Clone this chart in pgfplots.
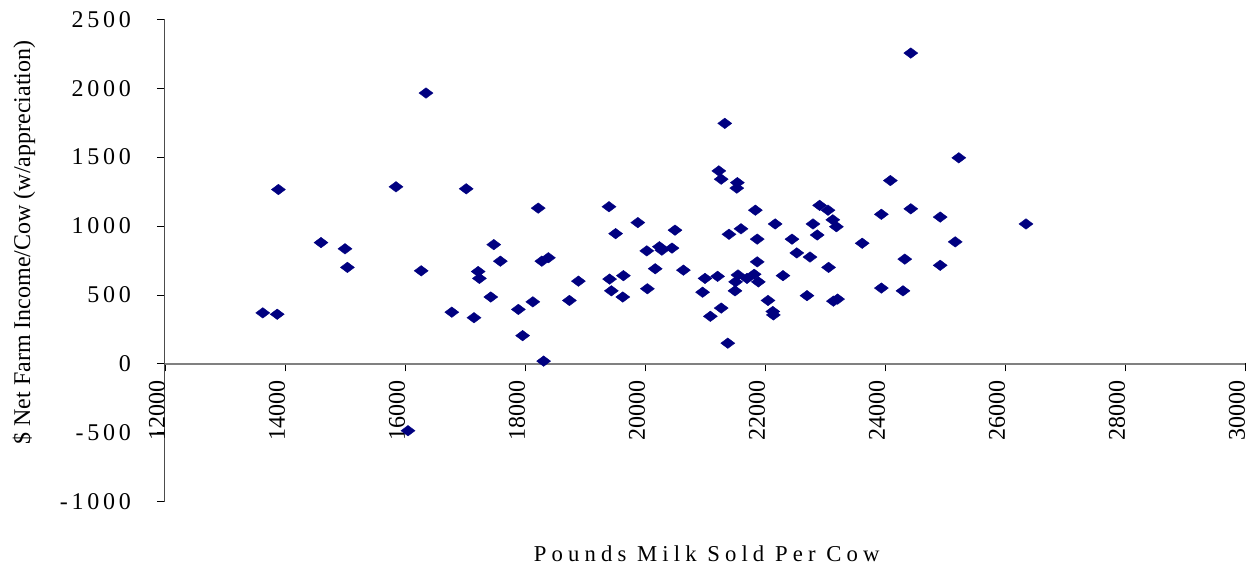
\documentclass[border=0pt]{standalone}
\usepackage{fontspec}
\setmainfont{Liberation Serif}
\newfontfamily\spacedfont[LetterSpace=15.5]{Liberation Serif}
\newfontfamily\spacedfontb[LetterSpace=22.5]{Liberation Serif}
\usepackage{pgfplots}
\pgfplotsset{compat=1.18}
\definecolor{navy}{RGB}{0,0,128}
\begin{document}
\begin{tikzpicture}
\path[use as bounding box] (0,0) rectangle (1250pt,565pt);
\begin{axis}[
  at={(165pt,63.3pt)}, anchor=south west,
  width=1080pt, height=482.4pt, scale only axis,
  xmin=12000, xmax=30000, ymin=-1000, ymax=2500,
  xtick={12000,14000,...,30000},
  xticklabels={},
  ytick={-1000,-500,0,500,1000,1500,2000,2500},
  scaled x ticks=false, scaled y ticks=false,
  axis x line*=middle, axis y line*=left,
  hide obscured x ticks=false, hide obscured y ticks=false,
  ytick align=outside,
  xtick align=center,
  major tick length=8pt,
  tick style={black, line width=0.8pt},
  xtick style={black, line width=0.8pt, yshift=-3.5pt},
  x axis line style={draw=gray, line width=1.5pt},
  y axis line style={draw=black!70, line width=1pt},
  /pgf/number format/assume math mode=true,
  /pgf/number format/1000 sep={},
  yticklabel style={font=\spacedfont\fontsize{24}{26}\selectfont, anchor=east, inner ysep=0pt, inner xsep=26pt},
  xlabel={Pounds Milk Sold Per Cow},
  ylabel={\$ Net Farm Income/Cow (w/appreciation)},
  every axis x label/.style={at={(axis description cs:0.5016,-0.1245)}, anchor=base, font=\spacedfontb\fontsize{22.7}{24}\selectfont},
  every axis y label/.style={at={(axis description cs:-0.1306,0.5373)}, rotate=90, anchor=center, font=\fontsize{24}{26}\selectfont},
  clip=false,
]
\addplot[only marks, mark=diamond*, mark size=7pt, mark options={rotate=90, fill=navy, draw=navy}] coordinates {
(13630,370) (13870,360) (13890,1265) (14600,880) (15000,835) (15040,700)
(15850,1285) (16350,1965) (16270,675) (16050,-485) (16780,375) (17020,1270)
(17150,335) (17220,670) (17240,620) (17430,485) (17480,865) (17590,745)
(17890,395) (17960,205) (18130,450) (18220,1130) (18310,20) (18280,745)
(18390,770) (18890,600) (18740,460) (19400,1140) (19510,945) (19410,615)
(19440,530) (19640,640) (19630,485) (19880,1025) (20030,820) (20040,545)
(20170,690) (20240,850) (20280,825) (20450,840) (20500,970) (20640,680)
(21000,620) (21210,635) (20960,520) (21090,345) (21270,405) (21380,150)
(21230,1400) (21270,1340) (21540,1315) (21530,1275) (21330,1745) (21400,940)
(21600,980) (21840,1115) (21870,905) (22170,1015) (21870,740) (21550,645)
(21820,650) (21510,595) (21890,595) (21700,620) (21500,530) (22050,460)
(22130,380) (22140,355) (22300,640) (22450,905) (22530,805) (22750,775)
(22700,495) (22800,1015) (22870,935) (22910,1150) (23050,1115) (23130,1045)
(23190,995) (23060,700) (23140,455) (23210,470) (23620,875) (23940,1085)
(24090,1330) (24430,2255) (24430,1125) (24920,1065) (25230,1495) (26350,1015)
(25170,885) (24330,760) (24920,715) (23940,550) (24300,530)
};
\pgfplotsinvokeforeach{12000,14000,16000,18000,20000,22000,24000,26000,28000,30000}{
  \node[rotate=90, anchor=base east, inner sep=0pt, font=\fontsize{24}{26}\selectfont] at (axis cs:#1,0) {#1\hspace*{16pt}};
}
\end{axis}
\end{tikzpicture}
\end{document}
